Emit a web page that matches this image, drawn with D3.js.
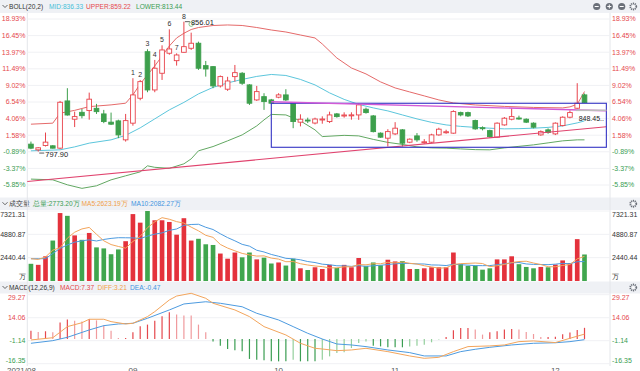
<!DOCTYPE html>
<html>
<head>
<meta charset="utf-8">
<script src="https://cdn.jsdelivr.net/npm/d3@7"></script>
<style>
body { margin: 0; background: #fff; }
svg { display: block; font-family: Arial, "Liberation Sans", sans-serif; }
</style>
</head>
<body>
<svg width="640" height="371"></svg>
<script>
// daily candles, in % of the axis
const candleOpen = [0.25,-0.6,0.04,0,-0.35,6.7,3.97,5,5.26,5.6,4.76,3.53,3.72,0.89,3.38,7.1,14.05,8.34,10.83,13.82,12.71,13.96,14.56,15.31,11.97,11.82,8.94,8.45,10.33,10.83,9.09,6.85,7.34,6.85,7.26,7.6,6.36,3.53,3.85,3.4,3.9,3.62,4.76,4.5,4.5,4.61,5.46,4.46,1.89,1.14,1.78,2.38,0.54,1.48,0.5,0.54,1.63,1.95,1.89,4.96,4.96,3.77,2.7,2.27,1.29,3.12,3.97,4.15,3.97,3.38,1.63,2.38,1.78,3.02,4.27,5.61,7.6];
const candleClose = [-0.35,-0.3,0.55,-0.35,6.5,4.6,4.36,4.5,6.96,5.1,3.62,3.23,1.63,3.76,7.6,9.58,8.34,11.58,14.31,14.46,13.56,14.8,15.31,11.58,11.47,8.94,10.33,9.68,10.92,9.34,6.36,8.09,6.6,6.36,7.6,6.85,3.62,3.97,3.7,4,4,4.61,4.36,4.6,4.62,6.11,4.96,2.12,1.29,2.12,2.63,0.39,0.99,0.89,0.6,1.63,2.48,2.1,5.11,4.61,4.46,2.53,2.55,1.38,3.38,4.12,4.36,4.05,3.53,2.78,2.12,1.98,3.38,4.27,4.96,6.36,6.45];
const candleHigh = [0.63,-0.2,1.98,0.1,6.7,8.6,5.1,5.5,7.94,6.26,5.36,4.96,3.9,4.76,10.09,9.83,14.41,12.82,15,17.39,13.8,18.53,16.89,15.55,12.67,11.9,10.5,10.3,12.07,11,9.2,8.94,7.85,7,7.85,8.45,6.5,4.7,4.2,4.2,4.4,5.1,4.9,5,5,6.36,5.7,4.6,2,2.48,3.53,2.5,1.1,1.9,1,1.8,2.7,2.4,5.3,5.1,5.1,3.9,2.9,2.4,3.5,4.3,5.61,4.5,4.1,3.5,2.3,2.6,3.5,4.4,5.3,9.35,7.8];
const candleLow = [-0.5,-0.86,-0.1,-0.4,-0.5,4.5,2.8,4.1,3.9,4.76,3.38,3.1,1.14,0.63,3,6.8,8,8,9.83,13.6,11.97,13.9,14.31,11.33,10.33,8.6,8.7,8.2,9.58,9.1,6.1,6.7,5.36,6.2,7.1,6.7,2.63,2.9,3.4,3.2,3.3,3.4,4.2,4.2,3.9,3.87,4.8,2,1.2,-0.11,1.6,-0.11,0.4,0.6,0.3,0.4,1.5,1.8,1.8,4.4,4.3,2.4,2.3,1.2,1.2,3,3.8,3.9,3.4,2.6,1.5,1.8,1.6,2.9,4.1,5.5,6.4];
// volume, 万
const volumes = [1798,1690,2584,4231,7106,6815,4770,4306,5025,3517,3409,2799,3302,4163,6998,6102,7321,6352,6352,6173,4845,6567,4231,4414,3840,3768,2871,2333,2979,2476,2979,2261,2440,1830,1938,1615,2333,1328,1148,1436,1256,1687,1364,1687,1436,2405,1579,1938,1651,2225,2046,2082,1256,1256,1328,1436,1436,1436,2979,1794,1579,1615,1184,1328,2261,2261,2584,1758,1471,1328,1471,1436,1723,2153,1866,4378,2773];
const volMa5Lead = [2330, 2260, 2510, 3230];
const volMa10Lead = [2330, 2330, 2340, 2870, 3410, 3770, 4060, 4200, 4306];
// BOLL lines, read at some days
const upperDay = [1,4,5,7,9,12,14,15,16,17,18,19,20,21,22,23,24,26,28,30,32,34,36,38,40,41,43,45,47,49,51,53,55,57,59,62,66,70,74,75,76,77];
const upperVal = [3.23,3.38,4.87,5.29,5.85,6.11,6.36,7.6,9.24,10.58,11.92,13.41,14.9,16.1,16.8,17.36,17.66,17.96,18.04,17.96,17.66,17.29,16.99,16.54,16.1,15.2,13.11,11.62,10.73,9.54,8.64,8.04,7.45,6.85,6.4,6.1,5.88,5.73,5.66,5.81,6.2,8.1];
const midDay = [1,5,7,9,12,14,16,18,20,22,24,26,28,30,32,34,36,38,40,42,44,46,48,50,52,54,56,58,60,62,64,66,68,70,72,74,76,77];
const midVal = [-0.75,-0.6,-0.16,0.4,0.89,1.56,2.68,4.02,5.36,6.48,7.75,8.72,9.39,9.91,10.36,10.65,10.5,9.91,9.09,7.9,6.93,6.18,5.66,5.21,4.61,4.02,3.5,3.12,2.9,2.75,2.63,2.53,2.56,2.63,2.75,2.97,3.42,3.72];
const lowerDay = [1,4,6,8,10,12,14,16,17,18,20,22,23,24,26,28,30,32,33,34,36,38,40,41,44,46,48,50,52,54,56,58,60,62,64,66,68,70,72,74,76,77];
const lowerVal = [-4.97,-5.08,-5.82,-6.35,-5.97,-5.08,-4.48,-3.89,-2.99,-3.21,-3.36,-2.69,-1.95,-0.75,-0.11,0.74,1.63,2.97,3.87,4.69,4.61,3.72,2.38,1.38,1.56,1.48,0.96,0.51,0.21,-0.16,-0.31,-0.35,-0.46,-0.57,-0.6,-0.31,-0.08,0.14,0.44,0.74,0.89,0.89];
// MACD
const macdHist = [5.5,4.6,5.1,4.4,10.9,12.8,12.1,11.6,13.2,12.3,9,5.5,0.6,0.6,4.4,8.4,9.5,12.1,15,17.6,16.1,15.6,15.5,9.5,4.4,-1.6,-4.4,-6.6,-7.5,-8.2,-13.2,-13.7,-14.1,-14.8,-14.8,-14.8,-13.7,-14.8,-14.8,-14.8,-13.7,-11.5,-9.3,-8.8,-6,-2.7,-1.6,-4.4,-4.9,-5.5,-5.5,-5.5,-4.9,-4.4,-3.8,-2.2,-0.4,1.3,5.7,7.3,7.3,6.2,2.9,4.4,5.1,6.2,6.6,6.2,4.6,3.3,1.3,1.3,1.5,3.2,4.2,6,7.37];
const diffDay = [1,4,6,8,9,11,12,14,15,17,18,20,21,23,25,26,29,31,33,36,38,40,41,43,45,47,50,53,55,57,59,61,64,66,68,70,73,75,77];
const diffVal = [-0.65,0.82,8.17,10.74,13.03,13.03,11.47,9.91,10.37,14.78,18.09,25.8,28.38,30.2,26.9,23.6,19.19,14.78,8.17,2.65,-2.86,-6.17,-6.63,-7.73,-7.27,-6.17,-8.37,-11.22,-12.78,-12.14,-8.37,-5.06,-4.6,-3.96,-1.76,-1.3,-2.4,0.45,3.21];
const deaDay = [1,4,6,9,11,13,15,17,20,22,25,27,30,32,35,37,39,41,43,45,47,50,53,55,58,60,62,64,67,70,73,75,77];
const deaVal = [-2.86,-1.11,1.09,5.96,8.81,9.91,10.37,13.68,19.19,23.14,24.61,23.6,21.3,16.98,12.57,8.17,3.76,-0.01,-3.32,-3.96,-5.06,-7.27,-9.02,-11.22,-11.22,-8.37,-6.81,-5.52,-3.96,-2.86,-2.49,-1.76,-0.47];
// axes
const pctTicks = [18.93, 16.45, 13.97, 11.49, 9.02, 6.54, 4.06, 1.58, -0.89, -3.37, -5.85];
const volTicks = [7321.31, 4880.87, 2440.44, 0];
const macdTicks = [29.27, 14.06, -1.14, -16.35];
const monthDays = [1, 15, 35, 51, 73];
const monthLabels = ["2021/08", "09", "10", "11", "12"];
const tagDays = [15, 16, 17, 18, 19, 20, 21, 22];

const RED = "#e8434b", GREEN = "#3d9f4c", VRED = "#e4323c";
const upColor = "#e5484d", dnColor = "#3a9d52";

const svg = d3.select("svg");
const W = 640, left = 27.3, right = 610;
const days = d3.range(1, 78);

const x = d3.scaleLinear().domain([0.5, 80.5]).range([left, right]);
const bw = (x(2) - x(1)) * 0.64;
const py = d3.scaleLinear().domain([-5.85, 18.93]).range([185, 19]);
const vy = d3.scaleLinear().domain([0, 7321.31]).range([281, 211]);
const my = d3.scaleLinear().domain([-16.35, 29.27]).range([363.7, 294.7]);

// header bands
function header(y0, y1, items, icons) {
	svg.append("rect").attr("x", 0).attr("y", y0).attr("width", W).attr("height", y1 - y0).attr("fill", "#eff1f5");
	const cy = (y0 + y1) / 2;
	svg.append("path").attr("d", `M2.5,${cy - 1.5} L5,${cy + 1} L7.5,${cy - 1.5}`)
		.attr("fill", "none").attr("stroke", "#555").attr("stroke-width", 0.9);
	items.forEach(it => {
		svg.append("text").attr("x", it.x).attr("y", cy).attr("dy", "0.35em")
			.attr("font-size", 6.6).attr("fill", it.color).text(it.text);
	});
	icons.forEach(ic => {
		const g = svg.append("g").attr("transform", `translate(${ic.x},${cy})`);
		if (ic.type === "gear") {
			g.append("circle").attr("r", 3).attr("fill", "none").attr("stroke", "#6b7079")
				.attr("stroke-width", 1.8).attr("stroke-dasharray", "1.2 0.7");
			g.append("circle").attr("r", 1).attr("fill", "#fff");
		} else {
			g.append("circle").attr("r", 3.6).attr("fill", "#6b7079");
			g.append("line").attr("x1", -2).attr("x2", 2).attr("stroke", "#fff").attr("stroke-width", 1);
			if (ic.type === "plus") g.append("line").attr("y1", -2).attr("y2", 2).attr("stroke", "#fff").attr("stroke-width", 1);
		}
	});
}

header(0, 13, [
	{ x: 9, text: "BOLL(20,2)", color: "#333" },
	{ x: 49, text: "MID:836.33", color: "#45bfd8" },
	{ x: 86, text: "UPPER:859.22", color: "#e5484d" },
	{ x: 136, text: "LOWER:813.44", color: "#3a9d52" }
], [{ x: 596.7, type: "minus" }, { x: 609.3, type: "plus" }, { x: 621.7, type: "minus" }, { x: 633.3, type: "gear" }]);

header(197.5, 210, [
	{ x: 9, text: "成交量", color: "#333" },
	{ x: 33, text: "总量:2773.20万", color: "#3a9d52" },
	{ x: 81.5, text: "MA5:2623.19万", color: "#f0a048" },
	{ x: 131, text: "MA10:2082.27万", color: "#3f94e0" }
], [{ x: 633.3, type: "gear" }]);

header(281.5, 293.5, [
	{ x: 9, text: "MACD(12,26,9)", color: "#333" },
	{ x: 60, text: "MACD:7.37", color: "#e5484d" },
	{ x: 97.5, text: "DIFF:3.21", color: "#f0a048" },
	{ x: 130, text: "DEA:-0.47", color: "#3f94e0" }
], [{ x: 633.3, type: "gear" }]);

// frame lines
[left, right].forEach(v => {
	svg.append("line").attr("x1", v).attr("x2", v).attr("y1", 13).attr("y2", 366)
		.attr("stroke", "#e4e6ea").attr("stroke-width", 1);
});

function grid(scale, ticks) {
	svg.append("g").selectAll("line").data(ticks).join("line")
		.attr("x1", left).attr("x2", right)
		.attr("y1", d => scale(d)).attr("y2", d => scale(d))
		.attr("stroke", "#f0f1f4").attr("stroke-width", 1);
}
grid(py, pctTicks);
grid(vy, volTicks.slice(0, 3));
grid(my, macdTicks);

// axis labels
function labels(ticks, posY, fmt, colorFn) {
	[{ x: 25.5, anchor: "end" }, { x: 612, anchor: "start" }].forEach(side => {
		svg.append("g").selectAll("text").data(ticks).join("text")
			.attr("x", side.x).attr("y", posY).attr("dy", "0.35em")
			.attr("text-anchor", side.anchor).attr("font-size", 7)
			.attr("fill", colorFn).text(fmt);
	});
}
labels(pctTicks, d => py(d), d => d.toFixed(2) + "%", d => d >= 0 ? upColor : dnColor);
labels(volTicks, d => d === 0 ? 277 : Math.max(vy(d), 214.5), d => d === 0 ? "万" : d.toFixed(2), () => "#333");
labels(macdTicks, d => Math.min(Math.max(my(d), 297.5), 360.7), d => d.toFixed(2), d => d >= 0 ? upColor : dnColor);

// month labels (partly below the bottom edge, as in the source)
svg.append("g").selectAll("text").data(monthDays).join("text")
	.attr("x", (d, i) => i === 0 ? x(d) - 24 : x(d))
	.attr("y", 373)
	.attr("text-anchor", (d, i) => i === 0 ? "start" : "middle")
	.attr("font-size", 8).attr("fill", "#555")
	.text((d, i) => monthLabels[i]);

// BOLL
const line = (scale) => d3.line().x(d => x(d[0])).y(d => scale(d[1]));
const pairs = (a, b) => a.map((d, i) => [d, b[i]]);
svg.append("path").attr("d", line(py)(pairs(upperDay, upperVal))).attr("fill", "none").attr("stroke", "#e56a6a").attr("stroke-width", 1);
svg.append("path").attr("d", line(py)(pairs(midDay, midVal))).attr("fill", "none").attr("stroke", "#5cc6dc").attr("stroke-width", 1);
svg.append("path").attr("d", line(py)(pairs(lowerDay, lowerVal))).attr("fill", "none").attr("stroke", "#62a862").attr("stroke-width", 1);

// candles
const up = i => candleClose[i] >= candleOpen[i];
const candles = svg.append("g").selectAll("g").data(days).join("g");
candles.append("line")
	.attr("x1", d => x(d)).attr("x2", d => x(d))
	.attr("y1", d => py(candleHigh[d - 1])).attr("y2", d => py(candleLow[d - 1]))
	.attr("stroke", d => up(d - 1) ? RED : GREEN).attr("stroke-width", 1);
candles.append("rect")
	.attr("x", d => x(d) - bw / 2)
	.attr("y", d => py(Math.max(candleOpen[d - 1], candleClose[d - 1])))
	.attr("width", bw)
	.attr("height", d => Math.max(1, Math.abs(py(candleOpen[d - 1]) - py(candleClose[d - 1]))))
	.attr("fill", d => up(d - 1) ? "#fff" : GREEN)
	.attr("stroke", d => up(d - 1) ? RED : GREEN).attr("stroke-width", 0.9);

// drawings
svg.append("line")
	.attr("x1", x(0.5)).attr("y1", py(-5.33)).attr("x2", x(80)).attr("y2", py(2.85))
	.attr("stroke", "#e0436e").attr("stroke-width", 1.1);
svg.append("rect")
	.attr("x", x(34)).attr("y", py(6.35)).attr("width", x(80) - x(34)).attr("height", py(-0.22) - py(6.35))
	.attr("fill", "none").attr("stroke", "#3434c4").attr("stroke-width", 1.1);
svg.append("line")
	.attr("x1", x(34)).attr("y1", py(6.58)).attr("x2", x(80)).attr("y2", py(5.24))
	.attr("stroke", "#d25ad6").attr("stroke-width", 1.4);
svg.append("line")
	.attr("x1", x(75.8)).attr("y1", py(5.3)).attr("x2", x(80)).attr("y2", py(5.3))
	.attr("stroke", "#bdbdbd").attr("stroke-width", 1.6);
svg.append("text").attr("x", x(76.2)).attr("y", py(4.11)).attr("dy", "0.35em")
	.attr("font-size", 7).attr("fill", "#222").text("848.45..");

// tags 1..8
svg.append("g").selectAll("text").data(tagDays).join("text")
	.attr("x", d => x(d)).attr("y", d => py(candleHigh[d - 1]) - 3)
	.attr("text-anchor", "middle").attr("font-size", 7).attr("fill", "#333")
	.text((d, i) => i + 1);

// high / low marks
const hi = 22, lo = 2;
svg.append("line").attr("x1", x(hi) + 1).attr("x2", x(hi) + 6).attr("y1", py(candleHigh[hi - 1])).attr("y2", py(candleHigh[hi - 1]))
	.attr("stroke", "#333").attr("stroke-width", 0.8);
svg.append("circle").attr("cx", x(23)).attr("cy", py(candleHigh[hi - 1]) + 2.5).attr("r", 2.2)
	.attr("fill", "none").attr("stroke", "#7fbf7f").attr("stroke-width", 0.9);
svg.append("text").attr("x", x(hi) + 7).attr("y", py(candleHigh[hi - 1]) + 1).attr("dy", "0.35em")
	.attr("font-size", 7.5).attr("fill", "#222").text("856.01");
svg.append("line").attr("x1", x(lo) + 1).attr("x2", x(lo) + 6).attr("y1", py(candleLow[lo - 1]) + 1.5).attr("y2", py(candleLow[lo - 1]) + 1.5)
	.attr("stroke", "#333").attr("stroke-width", 0.8);
svg.append("text").attr("x", x(lo) + 7).attr("y", py(candleLow[lo - 1]) + 2.5).attr("dy", "0.35em")
	.attr("font-size", 7.5).attr("fill", "#222").text("797.90");

// volume
svg.append("g").selectAll("rect").data(days).join("rect")
	.attr("x", d => x(d) - bw / 2).attr("width", bw)
	.attr("y", d => vy(volumes[d - 1])).attr("height", d => vy(0) - vy(volumes[d - 1]))
	.attr("fill", d => up(d - 1) ? VRED : "#40a64e");

function movingAvg(vals, n, lead) {
	return vals.map((v, i) => i < lead.length ? lead[i] : d3.mean(vals.slice(i - n + 1, i + 1)));
}
const ma5 = movingAvg(volumes, 5, volMa5Lead);
const ma10 = movingAvg(volumes, 10, volMa10Lead);
const vLine = d3.line().x((d, i) => x(i + 1)).y(d => vy(d));
svg.append("path").attr("d", vLine(ma10)).attr("fill", "none").attr("stroke", "#4d9be0").attr("stroke-width", 1);
svg.append("path").attr("d", vLine(ma5)).attr("fill", "none").attr("stroke", "#f3a55c").attr("stroke-width", 1);

// MACD
svg.append("g").selectAll("line").data(days).join("line")
	.attr("x1", d => x(d)).attr("x2", d => x(d))
	.attr("y1", my(0)).attr("y2", d => my(macdHist[d - 1]))
	.attr("stroke-width", 1.2)
	.attr("stroke", d => {
		const v = macdHist[d - 1], p = d > 1 ? macdHist[d - 2] : v;
		if (v >= 0) return v < p ? "#f09a9d" : "#e5484d";
		return v > p ? "#93cf9c" : "#3a9d52";
	});
svg.append("path").attr("d", line(my)(pairs(deaDay, deaVal))).attr("fill", "none").attr("stroke", "#4d9be0").attr("stroke-width", 1);
svg.append("path").attr("d", line(my)(pairs(diffDay, diffVal))).attr("fill", "none").attr("stroke", "#f3a55c").attr("stroke-width", 1);
</script>
</body>
</html>
